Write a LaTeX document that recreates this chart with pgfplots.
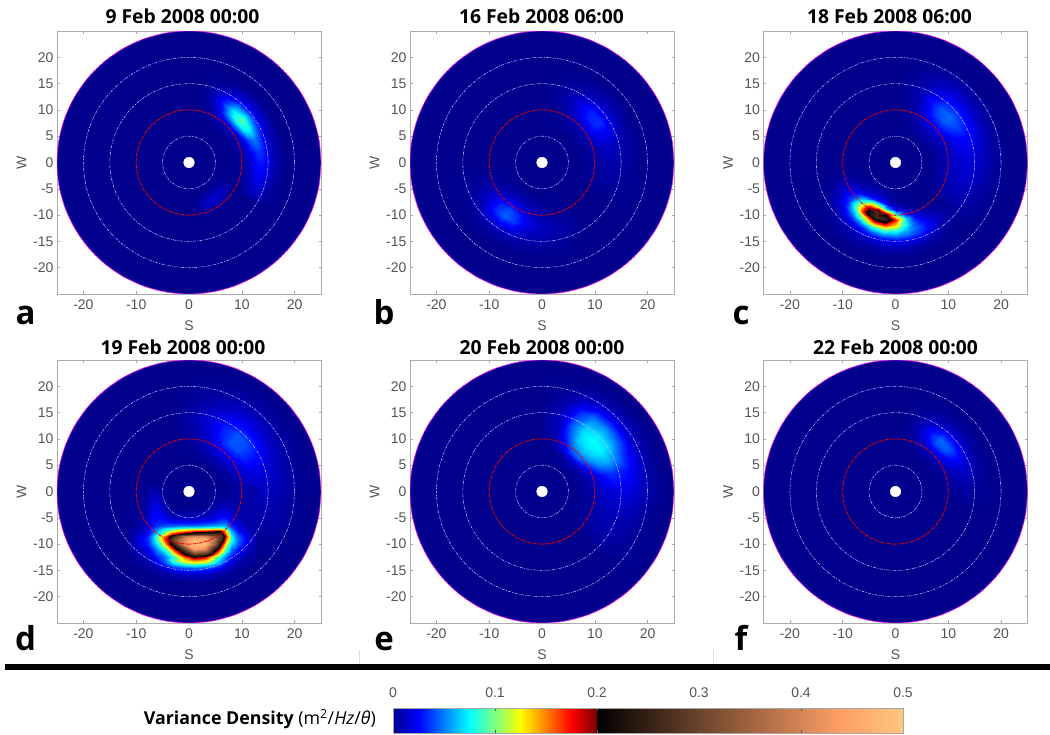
\documentclass[border=0pt]{standalone}
\usepackage{pgfplots}
\usepackage{pgfplotstable}
\usepackage{fontspec}
\pgfplotsset{compat=1.18}
\setmainfont{Liberation Sans}
\newfontfamily\tf{Open Sans}
\definecolor{base}{rgb}{0,0,.55}
\definecolor{tk}{gray}{.33}
\definecolor{mag}{rgb}{1,0,1}
\pgfplotsset{colormap={vd}{rgb(0pt)=(0,0,.56); rgb(25pt)=(0,0,1); rgb(75pt)=(0,1,1); rgb(125pt)=(1,1,0); rgb(175pt)=(1,0,0); rgb(199pt)=(.5,0,0); rgb(200pt)=(0,0,0); rgb(440pt)=(1,.625,.4); rgb(500pt)=(1,.78,.5)}}
\pgfplotstableread{
c s
1 0
.9848 .1736
.9397 .342
.866 .5
.766 .6428
.6428 .766
.5 .866
.342 .9397
.1736 .9848
0 1
-.1736 .9848
-.342 .9397
-.5 .866
-.6428 .766
-.766 .6428
-.866 .5
-.9397 .342
-.9848 .1736
-1 0
-.9848 -.1736
-.9397 -.342
-.866 -.5
-.766 -.6428
-.6428 -.766
-.5 -.866
-.342 -.9397
-.1736 -.9848
0 -1
.1736 -.9848
.342 -.9397
.5 -.866
.6428 -.766
.766 -.6428
.866 -.5
.9397 -.342
.9848 -.1736
1 0
}\unitc
% polar field: #1 angles, #2 radius/row list
\newcommand\polarfield[2]{%
 \gdef\accum{}%
 \foreach \t [count=\n] in {#1}{\xdef\ncols{\n}}%
 \foreach \r/\row in {#2}{%
  \foreach \v [count=\k from 0] in \row {%
   \pgfmathsetmacro\tt{{#1}[\k]}%
   \pgfmathsetmacro\xx{\r*cos(\tt)}%
   \pgfmathsetmacro\yy{\r*sin(\tt)}%
   \xdef\accum{\accum (\xx,\yy) [\v]}%
  }}%
 \edef\tmp{\noexpand\addplot[surf,shader=interp,point meta=explicit,mesh/cols=\ncols] coordinates {\accum};}\tmp}
% cartesian field: #1 x values, #2 y/row list
\newcommand\cartfield[2]{%
 \gdef\accum{}%
 \foreach \t [count=\n] in {#1}{\xdef\ncols{\n}}%
 \foreach \r/\row in {#2}{%
  \foreach \v [count=\k from 0] in \row {%
   \pgfmathsetmacro\xx{{#1}[\k]}%
   \xdef\accum{\accum (\xx,\r) [\v]}%
  }}%
 \edef\tmp{\noexpand\addplot[surf,shader=interp,point meta=explicit,mesh/cols=\ncols] coordinates {\accum};}\tmp}
\pgfplotsset{panel/.style={
 scale only axis,width=264pt,height=263pt,anchor=south west,
 xmin=-25,xmax=25,ymin=-25,ymax=25,
 xtick={-20,-10,0,10,20},ytick={-20,-15,-10,-5,0,5,10,15,20},
 /pgf/number format/assume math mode=true,
 tick label style={font=\fontsize{14}{16}\selectfont,text=tk},
 xticklabel style={yshift=-2.5pt},
 label style={font=\fontsize{14}{16}\selectfont,text=tk},
 tick style={color=gray!70,line width=.5pt},
 major tick length=2.5pt,tick align=inside,
 axis line style={color=gray!65,line width=.9pt},
 xlabel={S},ylabel={W},
 xlabel style={yshift=-4pt},ylabel style={yshift=0pt},
 colormap name=vd,point meta min=0,point meta max=.5,
}}
\newcommand\disk{\addplot[smooth,fill=base,draw=mag,line width=.8pt,dash pattern=on 1.4pt off .7pt] table[x expr=25*\thisrow{c},y expr=25*\thisrow{s}]{\unitc};}
\newcommand\rings{%
 \foreach \rr in {5,15,20}{\edef\tmp{\noexpand\addplot[smooth,color=white!72!blue,line width=.55pt,dash pattern=on 3pt off 1.3pt on 1pt off 1.3pt] table[x expr=\rr*\noexpand\thisrow{c},y expr=\rr*\noexpand\thisrow{s}]{\noexpand\unitc};}\tmp}%
 \addplot[smooth,color=red!92!black,line width=.9pt,dash pattern=on 3pt off 1pt on 1pt off 1pt] table[x expr=10*\thisrow{c},y expr=10*\thisrow{s}]{\unitc};%
 \addplot[smooth,fill=white,draw=white] table[x expr=\thisrow{c},y expr=\thisrow{s}]{\unitc};}
\begin{document}
\begin{tikzpicture}[x=1pt,y=1pt]
\useasboundingbox (0,0) rectangle (1050,734);
% a
\begin{axis}[panel,at={(57pt,440pt)}]
\disk
\polarfield{-30,-20,-10,0,10,20,30,40,50,60,70,80}{
8/{0,0,0,0,0,0,0,0,0,0,0,0},
10/{0,.001,.002,.003,.004,.006,.008,.01,.01,.006,.001,0},
11/{.001,.004,.006,.009,.012,.018,.03,.045,.035,.014,.003,0},
12/{.003,.01,.014,.018,.024,.04,.07,.085,.065,.024,.005,0},
13/{.006,.016,.024,.028,.036,.05,.08,.092,.07,.032,.008,0},
14/{.006,.016,.024,.028,.034,.04,.052,.06,.05,.028,.008,0},
15/{.003,.01,.016,.018,.02,.022,.026,.028,.026,.017,.005,0},
16/{.001,.004,.006,.008,.009,.01,.012,.014,.013,.008,.002,0},
18/{0,0,0,0,0,0,0,0,0,0,0,0}}
\polarfield{-85,-75,-65,-55,-45,-35,-25}{
6/{0,0,0,0,0,0,0},
7/{0,.002,.005,.006,.005,.004,0},
8/{0,.006,.012,.014,.012,.007,0},
9/{0,.005,.01,.012,.01,.004,0},
10/{0,.001,.002,.002,.001,0,0},
11/{0,0,0,0,0,0,0}}
\rings
\end{axis}
% b
\begin{axis}[panel,at={(410pt,440pt)}]
\disk
\polarfield{-30,-15,0,15,25,35,45,55,65,75,90}{
7/{0,0,0,0,0,0,0,0,0,0,0},
9/{0,.001,.002,.003,.004,.005,.005,.004,.002,0,0},
10.5/{0,.002,.004,.007,.012,.016,.014,.01,.004,.001,0},
12/{0,.003,.006,.012,.022,.032,.03,.018,.008,.002,0},
13.5/{0,.003,.006,.012,.022,.034,.032,.02,.01,.003,0},
15/{0,.002,.004,.008,.012,.018,.018,.012,.006,.002,0},
17/{0,.001,.002,.003,.004,.006,.006,.004,.002,0,0},
19/{0,0,0,0,0,0,0,0,0,0,0}}
\polarfield{-175,-160,-145,-135,-125,-115,-105,-90,-75,-60}{
6/{0,0,0,0,0,0,0,0,0,0},
8/{0,.001,.003,.006,.008,.007,.004,.002,0,0},
9.5/{0,.003,.008,.016,.022,.018,.01,.004,.001,0},
11/{0,.004,.014,.03,.04,.034,.018,.008,.003,.001},
12.5/{0,.004,.014,.032,.045,.036,.02,.01,.005,.002},
14/{0,.002,.008,.018,.024,.02,.012,.008,.005,.002},
16/{0,.001,.002,.004,.005,.005,.004,.003,.002,0},
18/{0,0,0,0,0,0,0,0,0,0}}
\rings
\end{axis}
% c
\begin{axis}[panel,at={(763.5pt,440pt)}]
\disk
\polarfield{-40,-25,-10,5,20,30,40,50,60,70,85}{
6/{0,0,0,0,0,0,0,0,0,0,0},
8/{0,.002,.003,.003,.004,.006,.008,.008,.005,.001,0},
10/{.001,.006,.009,.009,.011,.016,.022,.02,.012,.004,0},
12/{.002,.009,.013,.015,.021,.033,.043,.038,.022,.007,0},
13.5/{.002,.009,.014,.017,.025,.038,.046,.042,.026,.009,.001},
15/{.002,.007,.012,.016,.023,.03,.034,.03,.019,.008,.001},
17/{.001,.003,.006,.009,.012,.014,.016,.016,.011,.004,0},
19/{0,.001,.002,.003,.004,.005,.006,.006,.004,.002,0},
21/{0,0,0,0,0,0,0,0,0,0,0}}
\polarfield{-170,-160,-150,-140,-130,-120,-110,-100,-90,-80,-70,-60,-50,-40}{
5/{0,0,0,0,0,0,0,0,0,0,0,0,0,0},
7/{0,0,.002,.006,.01,.012,.01,.006,.002,0,0,0,0,0},
8/{0,.002,.006,.012,.022,.03,.03,.015,.005,.002,0,0,0,0},
9/{0,.004,.012,.025,.06,.11,.12,.06,.02,.006,.002,0,0,0},
10/{0,.006,.016,.035,.10,.2,.26,.2,.09,.025,.008,.002,0,0},
11/{0,.006,.016,.04,.11,.21,.27,.26,.17,.07,.025,.008,.002,0},
12/{0,.004,.012,.03,.075,.12,.17,.17,.125,.07,.035,.015,.004,0},
13/{0,.002,.008,.02,.04,.06,.08,.09,.08,.06,.04,.02,.006,.002},
14/{0,0,.004,.01,.02,.03,.04,.05,.05,.045,.035,.02,.006,.002},
15/{0,0,.002,.004,.008,.012,.016,.02,.022,.022,.018,.01,.004,0},
16.5/{0,0,0,.002,.003,.004,.005,.006,.006,.006,.004,.002,0,0},
18/{0,0,0,0,0,0,0,0,0,0,0,0,0,0}}
\rings
\end{axis}
% d
\begin{axis}[panel,at={(57pt,111pt)}]
\disk
\polarfield{-40,-25,-10,5,20,30,40,50,60,70,85,100}{
6/{0,0,0,0,0,0,0,0,0,0,0,0},
8/{0,0,.001,.002,.004,.006,.008,.008,.007,.004,.001,0},
10/{0,.001,.004,.006,.012,.017,.022,.024,.018,.01,.004,0},
12/{0,.003,.006,.01,.02,.03,.04,.042,.03,.018,.006,.001},
14/{0,.004,.008,.012,.02,.03,.04,.042,.032,.02,.008,.001},
16/{0,.004,.007,.01,.015,.02,.024,.026,.022,.014,.006,.001},
18/{0,.003,.005,.007,.009,.011,.013,.014,.013,.008,.003,0},
20/{0,.001,.002,.003,.004,.005,.006,.006,.005,.004,.002,0},
22/{0,0,0,.001,.001,.001,.002,.002,.002,.001,0,0},
23.5/{0,0,0,0,0,0,0,0,0,0,0,0}}
\cartfield{-12,-10,-8,-7,-6,-5,-4,-3,-1,1,3,5,6,7,8,9,11,13}{
-17/{0,0,0,0,0,0,0,0,0,0,0,0,0,0,0,0,0,0},
-15.5/{0,0,0,0,.002,.004,.006,.01,.014,.016,.014,.008,.005,.003,.001,0,0,0},
-14.5/{0,0,.002,.004,.008,.014,.022,.03,.04,.045,.04,.03,.02,.012,.006,.003,0,0},
-14/{0,.001,.004,.008,.015,.025,.04,.055,.07,.08,.07,.05,.035,.02,.01,.005,.001,0},
-13.5/{0,.002,.006,.012,.022,.035,.05,.07,.1,.115,.105,.07,.045,.03,.016,.008,.002,0},
-13/{0,.003,.008,.016,.026,.04,.06,.09,.13,.155,.14,.09,.06,.04,.02,.01,.003,0},
-12.5/{0,.004,.01,.018,.03,.045,.06,.08,.15,.205,.18,.1,.07,.045,.025,.012,.004,0},
-12/{0,.006,.014,.024,.038,.05,.07,.1,.19,.27,.24,.14,.09,.055,.035,.02,.006,.001},
-11/{0,.008,.02,.035,.055,.08,.11,.17,.29,.44,.41,.23,.15,.085,.05,.03,.01,.002},
-10/{.001,.012,.03,.05,.075,.115,.175,.24,.41,.5,.48,.34,.2,.115,.07,.045,.016,.002},
-9/{.001,.012,.032,.055,.09,.15,.2,.3,.4,.47,.46,.37,.27,.155,.085,.05,.02,.003},
-8.5/{.001,.01,.03,.055,.09,.13,.185,.25,.36,.4,.4,.32,.28,.17,.08,.045,.018,.003},
-8/{.001,.008,.024,.045,.075,.10,.14,.18,.22,.26,.27,.27,.25,.15,.07,.04,.016,.003},
-7.5/{0,.006,.018,.038,.06,.08,.1,.12,.15,.17,.185,.2,.2,.13,.06,.03,.012,.003},
-7/{0,.004,.014,.032,.045,.06,.07,.075,.085,.09,.09,.1,.1,.08,.045,.024,.008,.004},
-6.5/{0,.003,.012,.028,.036,.04,.045,.045,.05,.05,.055,.06,.065,.06,.035,.018,.006,.004},
-6/{0,.002,.01,.026,.03,.032,.032,.03,.03,.03,.034,.04,.046,.045,.028,.014,.006,.005},
-5/{0,.002,.008,.024,.026,.022,.014,.01,.01,.01,.012,.02,.028,.028,.018,.01,.005,.006},
-3/{0,.001,.006,.02,.02,.01,.003,0,0,0,.001,.005,.01,.012,.009,.005,.005,.006},
-1/{0,0,.003,.012,.012,.004,0,0,0,0,0,.001,.002,.003,.003,.004,.005,.006},
1/{0,0,0,.003,.003,0,0,0,0,0,0,0,0,.001,.002,.003,.005,.007}}
\rings
\end{axis}
% e
\begin{axis}[panel,at={(410pt,111pt)}]
\disk
\polarfield{-45,-30,-15,0,15,25,35,45,55,65,75,90}{
6/{0,0,0,0,0,0,0,0,0,0,0,0},
8/{0,.001,.001,.002,.003,.005,.01,.012,.008,.004,.001,0},
9/{0,.002,.003,.004,.008,.016,.03,.04,.032,.014,.003,0},
10.5/{.001,.004,.006,.009,.016,.035,.052,.06,.052,.028,.006,0},
12/{.002,.006,.009,.014,.028,.052,.068,.072,.065,.04,.01,.001},
13.5/{.002,.007,.01,.016,.035,.06,.074,.076,.07,.045,.012,.001},
15/{.002,.006,.01,.018,.032,.052,.068,.072,.065,.04,.012,.001},
17/{.001,.004,.008,.016,.026,.034,.045,.052,.048,.028,.008,0},
19/{0,.002,.004,.01,.014,.016,.019,.022,.02,.012,.004,0},
21/{0,.001,.001,.003,.004,.005,.006,.006,.005,.003,.001,0},
23/{0,0,0,0,0,0,0,0,0,0,0,0}}
\rings
\end{axis}
% f
\begin{axis}[panel,at={(763.5pt,111pt)}]
\disk
\polarfield{-10,0,10,20,30,40,50,60,70,80}{
8/{0,0,0,0,0,0,0,0,0,0},
10/{0,.001,.002,.004,.008,.012,.012,.008,.003,0},
11/{0,.002,.004,.008,.016,.026,.028,.016,.005,.001},
12/{0,.003,.006,.012,.024,.04,.042,.024,.008,.001},
13/{.001,.004,.008,.015,.028,.044,.045,.026,.008,.001},
14/{.001,.004,.008,.013,.022,.032,.033,.02,.007,.001},
15/{0,.002,.005,.009,.014,.018,.018,.012,.005,0},
17/{0,.001,.001,.002,.003,.004,.004,.003,.001,0},
19/{0,0,0,0,0,0,0,0,0,0}}
\rings
\end{axis}
% colour bar
\begin{axis}[scale only axis,width=510pt,height=25pt,anchor=south west,at={(393pt,1pt)},
 xmin=0,xmax=.5,ymin=0,ymax=1,xtick={0,.1,.2,.3,.4,.5},ytick=\empty,
 xticklabel pos=upper,tick align=inside,major tick length=3pt,
 xticklabels={0,0.1,0.2,0.3,0.4,0.5},
 tick label style={font=\fontsize{14}{16}\selectfont,text=tk,yshift=7pt},
 tick style={color=gray!70!black,line width=.5pt},
 axis line style={color=gray!70,line width=.8pt},
 colormap name=vd,point meta min=0,point meta max=.5,axis on top]
\addplot[surf,shader=interp,point meta=explicit,mesh/cols=2] coordinates {(0,0) [0] (.5,0) [.5] (0,1) [0] (.5,1) [.5]};
\end{axis}
% titles and letters
\foreach \x/\y/\s in {182.5/718/9 Feb 2008 00:00,541.5/718/16 Feb 2008 06:00,889.5/718/18 Feb 2008 06:00,183/387/19 Feb 2008 00:00,542/387/20 Feb 2008 00:00,895.5/387/22 Feb 2008 00:00}
 \node[font=\tf\bfseries\fontsize{19.3}{21}\selectfont,inner sep=0pt] at (\x,\y) {\s};
\foreach \x/\y/\s in {25.5/419/a,384/419/b,741/419/c,25.5/93/d,384/93/e,741/93/f}
 \node[font=\tf\bfseries\fontsize{33}{35}\selectfont,inner sep=0pt,anchor=base] at (\x,\y-10) {\s};
\fill[black] (5,64) rectangle (1050,69.5);
\draw[gray!25,line width=.6pt] (359,70) -- (359,84) (713,70) -- (713,84);
\node[anchor=east,inner sep=0pt,font=\tf\fontsize{17.8}{20}\selectfont] at (376,15) {\textbf{Variance Density} (m\textsuperscript{2}/\textit{Hz}/\textit{θ})};
\end{tikzpicture}
\end{document}
